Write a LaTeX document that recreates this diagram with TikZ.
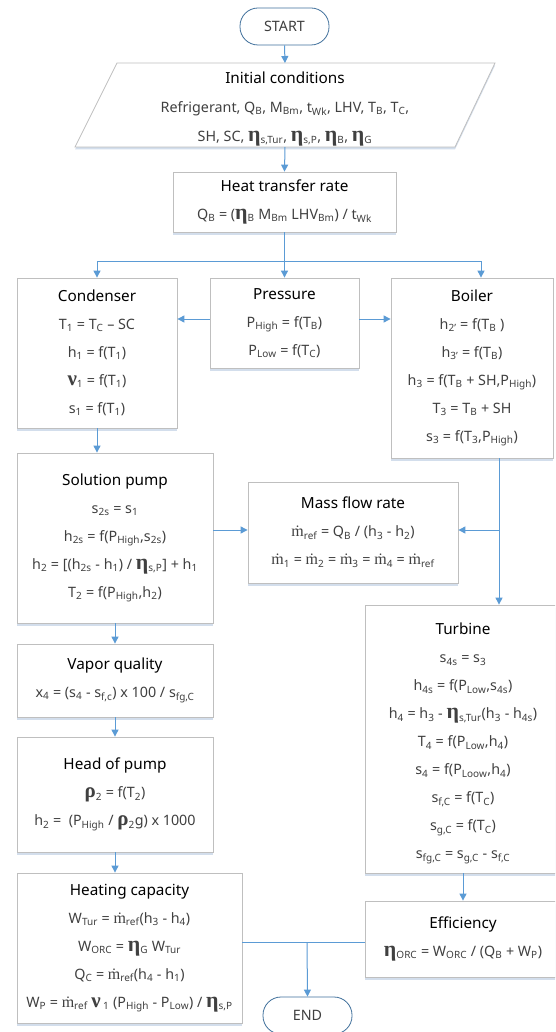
\documentclass[tikz,border=0pt]{standalone}
\usepackage{fontspec}
\setmainfont{Noto Sans}
\newfontfamily\grk{Liberation Serif}
\usetikzlibrary{arrows.meta,shadows}
\definecolor{bord}{HTML}{BFBFBF}
\definecolor{arr}{HTML}{5B9BD5}
\definecolor{term}{HTML}{41719C}
\definecolor{eqc}{HTML}{404040}
\definecolor{shd}{HTML}{D3DEEC}
\newcommand\sbb[1]{\textsubscript{#1}}
\newcommand\etaa{{\fontsize{22}{22}\selectfont\grk\bfseries η}}
\newcommand\nuu{{\fontsize{21}{21}\selectfont\grk\bfseries ν}}
\newcommand\rhoo{{\fontsize{21}{21}\selectfont\grk\bfseries ρ}}
\newcommand\mdot{{\fontsize{16}{16}\selectfont\grk ṁ}}
\newcommand\ttl[1]{{\color{black}\fontsize{15.3}{28}\selectfont #1}}
\tikzset{
  box/.style={draw=bord, line width=0.8pt, fill=white, align=center, inner sep=0pt,
    text=eqc, font=\fontsize{14.3}{28}\selectfont,
    general shadow={fill=shd, shadow yshift=-2.5pt}},
  term/.style={draw=term, line width=0.8pt, fill=white, rounded corners=18pt,
    minimum width=89pt, minimum height=37pt, inner sep=0pt, text=eqc,
    font=\fontsize{14.3}{16}\selectfont},
  arrow/.style={draw=arr, line width=1pt, -{Triangle[length=7pt,width=7pt]}},
  line/.style={draw=arr, line width=1pt},
}
\begin{document}
\begin{tikzpicture}[x=1pt,y=-1pt]
\path[fill=white] (0,0) rectangle (555,1032);
\clip (0,0) rectangle (555,1032);
% START
\node[term] (start) at (284.5,26.5) {START};
% Initial conditions parallelogram
\coordinate (initTop) at (285,63);
\coordinate (initBot) at (285,147);
\path[draw=bord, line width=0.8pt, fill=white, general shadow={fill=shd, shadow yshift=-2.5pt}]
  (117,63) -- (495,63) -- (455,147) -- (75,147) -- cycle;
\node[align=center, inner sep=0pt, text=eqc, font=\fontsize{14.3}{29}\selectfont] (init) at (285,109)
  {\ttl{Initial conditions}\\
   Refrigerant, Q\sbb{B}, M\sbb{Bm}, t\sbb{Wk}, LHV, T\sbb{B}, T\sbb{C},\\
   SH, SC, \etaa\sbb{s,Tur}, \etaa\sbb{s,P}, \etaa\sbb{B}, \etaa\sbb{G}};
% Heat transfer rate
\node[box, minimum width=223pt, minimum height=60pt] (ht) at (284.5,202)
  {\ttl{Heat transfer rate}\\ Q\sbb{B} = (\etaa\sbb{B} M\sbb{Bm} LHV\sbb{Bm}) / t\sbb{Wk}};
% Condenser
\node[box, minimum width=160pt, minimum height=150pt] (cond) at (97,353)
  {\ttl{Condenser}\\ T\sbb{1} = T\sbb{C} – SC\\ h\sbb{1} = f(T\sbb{1})\\ \nuu\sbb{1} = f(T\sbb{1})\\ s\sbb{1} = f(T\sbb{1})};
% Pressure
\node[box, minimum width=149pt, minimum height=90pt] (pres) at (284.5,323)
  {\ttl{Pressure}\\ P\sbb{High} = f(T\sbb{B})\\ P\sbb{Low} = f(T\sbb{C})};
% Boiler
\node[box, minimum width=162pt, minimum height=180pt] (boil) at (472,368)
  {\ttl{Boiler}\\ h\sbb{2'} = f(T\sbb{B} )\\ h\sbb{3'} = f(T\sbb{B})\\ h\sbb{3} = f(T\sbb{B} + SH,P\sbb{High})\\ T\sbb{3} = T\sbb{B} + SH\\ s\sbb{3} = f(T\sbb{3},P\sbb{High})};
% Solution pump
\node[box, minimum width=196pt, minimum height=170pt] (sp) at (115,538)
  {\ttl{Solution pump}\\ s\sbb{2s} = s\sbb{1}\\ h\sbb{2s} = f(P\sbb{High},s\sbb{2s})\\ h\sbb{2} = [(h\sbb{2s} - h\sbb{1}) / \etaa\sbb{s,P}] + h\sbb{1}\\ T\sbb{2} = f(P\sbb{High},h\sbb{2})};
% Mass flow rate
\node[box, minimum width=210pt, minimum height=101pt] (mfr) at (353,532.5)
  {\ttl{Mass flow rate}\\ \mdot\sbb{ref} = Q\sbb{B} / (h\sbb{3} - h\sbb{2})\\ \mdot\sbb{1} = \mdot\sbb{2} = \mdot\sbb{3} = \mdot\sbb{4} = \mdot\sbb{ref}};
% Turbine
\node[box, minimum width=196pt, minimum height=268pt] (turb) at (463,739)
  {\rule{0pt}{21pt}\ttl{Turbine}\\ s\sbb{4s} = s\sbb{3}\\ h\sbb{4s} = f(P\sbb{Low},s\sbb{4s})\\ h\sbb{4} = h\sbb{3} - \etaa\sbb{s,Tur}(h\sbb{3} - h\sbb{4s})\\ T\sbb{4} = f(P\sbb{Low},h\sbb{4})\\ s\sbb{4} = f(P\sbb{Loow},h\sbb{4})\\ s\sbb{f,C} = f(T\sbb{C})\\ s\sbb{g,C} = f(T\sbb{C})\\ s\sbb{fg,C} = s\sbb{g,C} - s\sbb{f,C}};
% Vapor quality
\node[box, minimum width=196pt, minimum height=73pt] (vq) at (115,680.5)
  {\ttl{Vapor quality}\\ x\sbb{4} = (s\sbb{4} - s\sbb{f,c}) x 100 / s\sbb{fg,C}};
% Head of pump
\node[box, minimum width=196pt, minimum height=115pt] (hop) at (115,794.5)
  {\ttl{Head of pump}\\ \rhoo\sbb{2} = f(T\sbb{2})\\ h\sbb{2} =~ (P\sbb{High} / \rhoo\sbb{2}g) x 1000};
% Heating capacity
\node[box, minimum width=225pt, minimum height=150pt] (hc) at (129.5,948)
  {\ttl{Heating capacity}\\ W\sbb{Tur} = \mdot\sbb{ref}(h\sbb{3} - h\sbb{4})\\ W\sbb{ORC} = \etaa\sbb{G} W\sbb{Tur}\\ Q\sbb{C} = \mdot\sbb{ref}(h\sbb{4} - h\sbb{1})\\ W\sbb{P} = \mdot\sbb{ref} \nuu\,\sbb{1} (P\sbb{High} - P\sbb{Low}) / \etaa\sbb{s,P}};
% Efficiency
\node[box, minimum width=196pt, minimum height=76pt] (eff) at (463,939)
  {\ttl{Efficiency}\\ \etaa\sbb{ORC} = W\sbb{ORC} / (Q\sbb{B} + W\sbb{P})};
% END
\node[term] (endn) at (307.5,1015.5) {END};
% connectors
\coordinate (bj) at (285,261);
\coordinate (mj) at (499,530);
\coordinate (ej) at (307,942);
\draw[arrow] (start.south) -- (initTop);
\draw[arrow] (initBot) -- (ht.north);
\draw[arrow] (ht.south) -- (pres.north);
\draw[arrow] (bj) -| (cond.north);
\draw[arrow] (bj) -| ([xshift=9pt]boil.north);
\draw[arrow] ([yshift=4pt]pres.west) -- ([yshift=4pt]pres.west -| cond.east);
\draw[arrow] ([yshift=4pt]pres.east) -- ([yshift=4pt]pres.east -| boil.west);
\draw[arrow] (cond.south) -- (cond.south |- sp.north);
\draw[arrow] (sp.east |- mj) -- (mfr.west |- mj);
\draw[arrow] ([xshift=27pt]boil.south) -- ([xshift=27pt]boil.south |- turb.north);
\draw[arrow] (mj) -- (mfr.east |- mj);
\draw[arrow] (sp.south) -- (vq.north);
\draw[arrow] (vq.south) -- (hop.north);
\draw[arrow] (hop.south) -- (hop.south |- hc.north);
\draw[arrow] (turb.south) -- (eff.north);
\draw[line] (hc.east |- ej) -- (eff.west |- ej);
\draw[arrow] (ej) -- (endn.north);
\end{tikzpicture}
\end{document}
